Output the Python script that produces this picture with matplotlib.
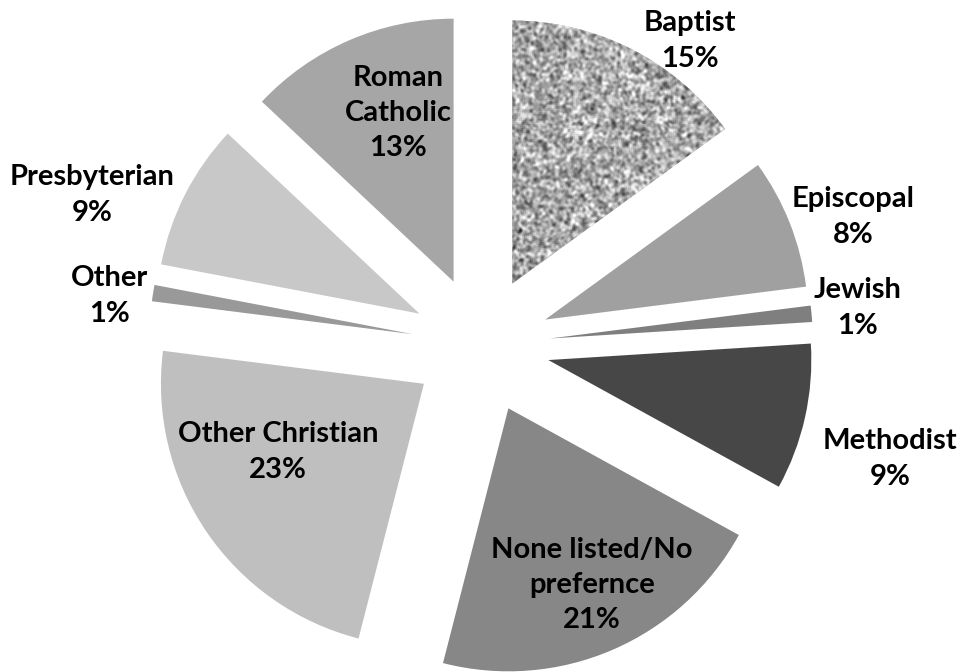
import numpy as np
import matplotlib.pyplot as plt

# data
religions = ['Baptist', 'Episcopal', 'Jewish', 'Methodist', 'None listed/No\nprefernce',
             'Other Christian', 'Other', 'Presbyterian', 'Roman\nCatholic']
shares = [15, 8, 1, 9, 21, 23, 1, 9, 13]

# style
colors = ['#b4b4b4', '#a0a0a0', '#7f7f7f', '#474747', '#878787',
          '#bfbfbf', '#999999', '#c8c8c8', '#a6a6a6']
W, H = 965, 672
cx, cy = 481, H - 345
radius = 263
explode = [69] * len(shares)
# label centres (pixels from top-left)
label_px = [(690, 41), (853, 217), (858, 308), (890, 459), (592, 585),
            (278, 452), (110, 296), (92, 195), (398, 113)]

plt.rcParams['font.family'] = ['Lato', 'DejaVu Sans']

fig = plt.figure(figsize=(W / 100, H / 100), dpi=100)
ax = fig.add_axes([0, 0, 1, 1])

wedges, _ = ax.pie(shares, colors=colors, startangle=90, counterclock=False,
                   radius=radius, center=(cx, cy), explode=explode,
                   wedgeprops=dict(linewidth=0))
ax.set_aspect('equal')
ax.axis('off')

# speckled texture for the Baptist wedge
rng = np.random.default_rng(3)
noise = rng.random((360, 360))
k = np.ones(3) / 3
for _ in range(2):
    noise = np.apply_along_axis(lambda r: np.convolve(r, k, mode='same'), 0, noise)
    noise = np.apply_along_axis(lambda r: np.convolve(r, k, mode='same'), 1, noise)
noise = (noise - noise.mean()) / noise.std()
img = ax.imshow(noise, cmap='gray', vmin=-4.6, vmax=2.4, interpolation='bilinear',
                extent=(cx - 10, cx + radius + 80, cy - 20, cy + radius + 80),
                origin='lower', zorder=wedges[0].get_zorder() + 0.1)
img.set_clip_path(wedges[0])
ax.set_xlim(0, W)
ax.set_ylim(0, H)

for name, share, (px, py) in zip(religions, shares, label_px):
    ax.text(px, H - py, f'{name}\n{share}%', ha='center', va='center',
            fontsize=21, fontweight='bold', linespacing=1.45, color='black')

fig.savefig('out.png', dpi=100)
